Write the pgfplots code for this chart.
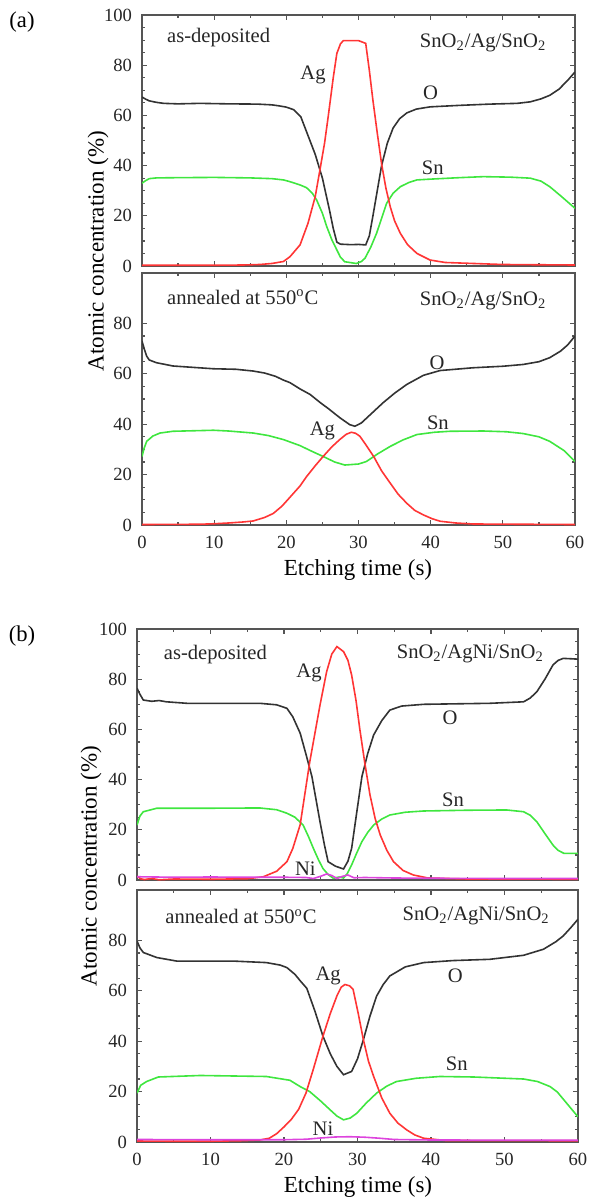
\documentclass[border=0pt]{standalone}
\usepackage{fontspec}
\setmainfont{Liberation Serif}
\usepackage{pgfplots}
\pgfplotsset{compat=1.18}

\definecolor{cO}{HTML}{333333}
\definecolor{cSn}{HTML}{3FE63F}
\definecolor{cAg}{HTML}{FF3535}
\definecolor{cNi}{HTML}{DD44DD}
\definecolor{frame}{HTML}{555555}

\newcommand{\annotfont}{\fontsize{10.3}{12}\selectfont}
\newcommand{\labfont}{\fontsize{11.5}{13}\selectfont}
\tikzset{annot/.style={font=\annotfont, text=black!85}}

\pgfplotsset{
  aes/.style={
    scale only axis,
    xmin=0, xmax=60, ymin=0, ymax=100,
    xtick={0,10,...,60}, minor x tick num=1,
    minor y tick num=3,
    xtick pos=both, ytick pos=both,
    tick align=inside,
    major tick length=2.6pt, minor tick length=1.6pt,
    axis line style={frame, line width=0.7pt},
    every tick/.style={frame, line width=0.6pt},
    tick label style={font=\fontsize{9.3}{11}\selectfont, text=black!85},
    xticklabel style={yshift=-2pt},
    yticklabel style={xshift=-1.5pt},
    /pgf/number format/assume math mode=true,
    every axis plot/.append style={line width=0.8pt, mark=none},
  },
  pO/.style={cO},
  pSn/.style={cSn},
  pAg/.style={cAg},
  pNi/.style={cNi},
}

\begin{document}
\begin{tikzpicture}[x=0.5pt, y=-0.5pt]
\path[use as bounding box] (0,0) rectangle (593,1200);
\coordinate (A1) at (142,15);
\coordinate (A2) at (142,273);
\coordinate (B1) at (137,629);
\coordinate (B2) at (137,890);

\node[font=\fontsize{11.3}{13}\selectfont] at (22,22) {(a)};
\node[font=\fontsize{11.3}{13}\selectfont] at (22,636) {(b)};
\node[font=\labfont, rotate=90] at (98,251) {Atomic concentration (\%)};
\node[font=\labfont, rotate=90] at (91,866) {Atomic concentration (\%)};
\node[font=\labfont] at (358,570) {Etching time (s)};
\node[font=\labfont] at (358,1187) {Etching time (s)};

% ---------- (a) as-deposited ----------
\begin{axis}[aes, at={(A1)}, anchor=north west, width=216.5pt, height=125.5pt,
  ytick={0,20,...,100}, xticklabels={}]
\addplot[pO] coordinates {
 (0,67.3) (0.5,66.5) (1,65.8) (2,65.2) (3,64.8) (5,64.6) (8,64.8) (12,64.6)
 (16,64.5) (18,64.2) (19,63.8) (20,63.3) (21,62.3) (22,59.5) (23,52)
 (24,44.5) (25,35) (26,22) (26.5,15) (27,9.5) (27.5,8.7) (29,8.5) (30,8.6)
 (31,8.4) (31.5,12) (32,20) (32.6,30) (33.2,40) (34,49) (34.8,55) (35.7,58.7)
 (36.7,61) (38,62.5) (39.9,63.4) (44,64) (48.2,64.5) (52,64.8) (53.8,65.4)
 (55.3,66.6) (56.5,68) (57.8,70.5) (59,74) (60,77.3)};
\addplot[pSn] coordinates {
 (0,33) (0.5,34) (1,34.8) (2,35.1) (5,35.2) (10,35.3) (15,35.1) (18,34.8)
 (19.6,34.3) (20.5,33.6) (21.9,32.3) (22.8,31.2) (23.6,29) (24.2,26.3)
 (25,21) (25.6,15.7) (26.3,10.5) (27,6.4) (27.5,3.5) (28.1,1.7) (29.7,1.0)
 (30.4,1.8) (30.9,3.1) (31.7,7.5) (32.5,13) (33.2,19) (33.9,25) (34.8,29)
 (35.8,31.6) (37,33.3) (38.1,34.3) (39.9,34.6) (44,35.2) (47.3,35.6)
 (51,35.4) (53.8,35) (55.3,33.8) (56.5,31.6) (58,28) (59,25.5) (60,23)};
\addplot[pAg] coordinates {
 (0,0.3) (10,0.3) (14,0.4) (16.3,0.6) (18,1.0) (19.6,1.8) (20.5,3.7)
 (21.9,8.4) (23,17) (24,27.6) (24.7,39) (25.3,49) (25.8,59.5) (26.5,75)
 (27,84.7) (27.5,88.5) (27.9,89.8) (30,89.8) (31,88.7) (31.5,78) (32,66)
 (32.6,53) (33.2,40.7) (33.8,31) (34.4,23.6) (35,18) (35.8,13) (36.8,8.5)
 (38.1,5) (39.9,2.4) (42,1.4) (46,1.0) (50,0.6) (60,0.4)};
\node[annot, anchor=west] at (axis cs:2.5,91) {as-deposited};
\node[annot, anchor=east] at (axis cs:57,89) {SnO\textsubscript{2}/Ag/SnO\textsubscript{2}};
\node[annot] at (axis cs:23.7,76) {Ag};
\node[annot] at (axis cs:40,69) {O};
\node[annot] at (axis cs:40.3,39) {Sn};
\end{axis}

% ---------- (a) annealed ----------
\begin{axis}[aes, at={(A2)}, anchor=north west, width=216.5pt, height=126pt,
  ytick={0,20,...,80}, extra y ticks={100}, extra y tick labels={}]
\addplot[pO] coordinates {
 (0,73) (0.3,70) (0.65,67) (1,65.5) (2,64.4) (4.3,63.1) (9.9,62) (13,61.8)
 (15.4,61.1) (17,60.3) (18.5,59) (19.6,57.5) (20.5,56.5) (21.9,54)
 (23.3,51.8) (24.6,48.8) (26,45.8) (27.4,42.6) (28.8,39.8) (29.5,39.2)
 (30.4,40.5) (31.9,44.5) (33.4,48.5) (35,52.3) (36.7,55.8) (39,59.4)
 (41.3,61.3) (45.9,62.4) (50,63) (52.8,63.7) (55,64.8) (56.5,66.4) (58,69)
 (59,71.5) (60,75)};
\addplot[pSn] coordinates {
 (0,27.2) (0.3,30.5) (0.65,33.2) (1.5,35.3) (2.5,36.5) (4.3,37.2) (9.9,37.6)
 (12,37.3) (15.4,36.5) (17.5,35.5) (19.6,33.9) (21.9,31.5) (23.5,29.3)
 (25.1,27.2) (26.7,25) (28.1,23.8) (30,24.2) (31.1,25.2) (32.7,28.3)
 (34.4,31.2) (36.2,33.8) (38.1,35.9) (40.5,36.8) (42.7,37.2) (47.3,37.3)
 (50.5,37) (52.8,36.3) (55,35) (56.5,33.2) (58.5,29.5) (60,25.2)};
\addplot[pAg] coordinates {
 (0,0.2) (8,0.3) (10,0.5) (12,0.8) (14,1.2) (15.4,1.6) (17,3) (18.2,4.6)
 (19.4,7.5) (20.5,11) (21.9,15.5) (22.8,19.2) (24,23.5) (25.1,27.2)
 (26.3,31) (27.4,33.9) (28.3,36) (29,36.8) (29.6,36.4) (30.2,35.2)
 (31.1,31.5) (32.1,27.2) (33.2,21.5) (34.4,16.6) (35.5,12.2) (36.7,8.6)
 (37.8,5.8) (39,4) (40.2,2.5) (41.3,1.5) (43.5,0.8) (45.9,0.4) (60,0.2)};
\node[annot, anchor=west] at (axis cs:2.5,90.4) {annealed at 550\textsuperscript{o}C};
\node[annot, anchor=east] at (axis cs:57,89) {SnO\textsubscript{2}/Ag/SnO\textsubscript{2}};
\node[annot] at (axis cs:25,37.5) {Ag};
\node[annot] at (axis cs:40.9,64.5) {O};
\node[annot] at (axis cs:41,40.5) {Sn};
\end{axis}

% ---------- (b) as-deposited ----------
\begin{axis}[aes, at={(B1)}, anchor=north west, width=220.5pt, height=125.5pt,
  ytick={0,20,...,100}, xticklabels={}]
\addplot[pO] coordinates {
 (0,76.4) (0.4,74) (0.86,71.7) (2,71.2) (3,71.5) (4,71) (6.8,70.4) (12,70.4)
 (16.7,70.4) (19,69.8) (20.4,68.4) (21.2,65) (22.2,58.5) (23,50) (23.8,41.2)
 (24.9,23.2) (25.5,14) (26,7.3) (27,5.5) (28.1,4.4) (28.7,7.5) (29.2,12.6)
 (29.9,27) (30.6,41.2) (31.4,50.5) (32.2,57.8) (33.3,63.5) (34.4,67.7)
 (36,69.3) (39,70) (48,70.4) (52.6,71) (53.5,72.5) (54.4,75) (55.5,80)
 (56.6,85.7) (57.3,87.5) (58,88.3) (60,88)};
\addplot[pSn] coordinates {
 (0,21.9) (0.4,25.5) (0.86,27.2) (2.7,28.6) (10,28.6) (16.7,28.7) (19,28)
 (20.4,26.6) (21.5,25) (22.6,21.9) (23.3,17.5) (24,12.6) (24.7,8) (25.3,4.6)
 (26,2.2) (26.7,0.7) (27.5,1.2) (28.1,0.8) (28.6,2.5) (29.2,6) (29.9,10.8)
 (30.6,15.3) (31.4,19) (32.2,21.9) (33.3,24.3) (34.4,25.9) (36.5,27)
 (39,27.5) (45,27.8) (50.3,27.9) (52.6,27.2) (53.5,25.8) (54.4,23.2)
 (55.5,18.5) (56.6,13.9) (57.3,11.8) (58.1,10.6) (60,10.6)};
\addplot[pAg] coordinates {
 (0,1.5) (0.5,0.5) (1,0.2) (2,0.6) (3,0.1) (5,0.4) (10,0.3) (15,0.5)
 (17.2,1.3) (19,3.5) (20.4,7.3) (21.2,12.6) (22.2,22) (23.5,47) (24.9,69.7)
 (25.8,83) (26.5,90) (27.2,93) (28.1,91) (28.7,87.5) (29.2,81.7) (29.8,71.5)
 (30.3,60.4) (31,46.5) (31.7,33.9) (32.4,24.5) (33.1,17.9) (34,11.8)
 (34.9,7.3) (36.2,3.8) (37.6,2) (39.6,0.8) (45,0.4) (60,0.3)};
\addplot[pNi] coordinates {
 (0,1.3) (5,1.1) (10,1.2) (15,1.1) (20,1.1) (23,1.0) (24,0.6) (25,1.5)
 (25.8,2.4) (26.5,1.8) (27.2,0.6) (28,1.5) (28.7,2.0) (29.5,0.9) (31,1.0)
 (35,0.8) (40,0.7) (50,0.6) (60,0.6)};
\node[annot, anchor=west] at (axis cs:2.7,90) {as-deposited};
\node[annot, anchor=east] at (axis cs:56.3,90) {SnO\textsubscript{2}/AgNi/SnO\textsubscript{2}};
\node[annot] at (axis cs:23.4,82.5) {Ag};
\node[annot] at (axis cs:42.6,64.5) {O};
\node[annot] at (axis cs:43,32) {Sn};
\node[annot] at (axis cs:22.9,4.5) {Ni};
\end{axis}

% ---------- (b) annealed ----------
\begin{axis}[aes, at={(B2)}, anchor=north west, width=220.5pt, height=126pt,
  ytick={0,20,...,80}, extra y ticks={100}, extra y tick labels={}]
\addplot[pO] coordinates {
 (0,79.8) (0.4,77) (0.86,75.2) (2.7,73.2) (5.4,71.8) (13.1,71.8) (17.6,71.2)
 (19.5,70.2) (20.4,69.2) (21.5,66.5) (22.2,64) (23.1,61) (24.2,52) (25.3,42)
 (26.3,35) (27.2,30) (28.1,26.7) (29.2,28) (30,33) (30.8,40.6) (31.7,50)
 (32.6,57.9) (33.5,62.5) (34.4,65.9) (36.5,69.5) (39,71.2) (43,72)
 (48,72.5) (52.6,74.1) (55.3,76.5) (57,79.5) (58,81.8) (59,85) (60,88.4)};
\addplot[pSn] coordinates {
 (0,19.4) (0.5,22.5) (1.3,24) (2.9,25.8) (8.6,26.4) (17.6,26) (20.8,24.5)
 (22.2,22) (23.5,20) (24.9,16.5) (26.3,12.7) (27.2,10.3) (28.1,8.8)
 (29,9.5) (29.9,11.4) (31.2,15.5) (32.6,19.4) (34,22.2) (35.3,24) (38,25.3)
 (41.2,26) (45.8,25.8) (52.6,25) (54.5,24) (56.2,22) (57.2,19.8) (58,17)
 (59,13.5) (60,10)};
\addplot[pAg] coordinates {
 (0,0.4) (5,0.3) (10,0.3) (14,0.5) (16.7,0.8) (18,1.5) (19,3.3) (20,6)
 (21,9) (22,13) (23,19.5) (24,29) (25.3,42) (26.3,51) (27.2,58) (27.8,61.5)
 (28.3,62.5) (28.9,62) (29.4,60.6) (30.1,51) (30.8,40.6) (31.5,32) (32.2,26)
 (33.3,17.5) (34.4,11.4) (35.5,7.5) (36.7,4.8) (37.8,2.8) (39,1.5) (42,0.6)
 (60,0.5)};
\addplot[pNi] coordinates {
 (0,1.0) (10,0.9) (20,0.9) (23,1.1) (25,1.6) (27,2.0) (29,2.1) (31,1.9)
 (33,1.5) (35,1.0) (40,0.8) (60,0.7)};
\node[annot, anchor=west] at (axis cs:2.9,89.6) {annealed at 550\textsuperscript{o}C};
\node[annot, anchor=east] at (axis cs:57.1,89.6) {SnO\textsubscript{2}/AgNi/SnO\textsubscript{2}};
\node[annot] at (axis cs:26,66) {Ag};
\node[annot] at (axis cs:43.3,66) {O};
\node[annot] at (axis cs:43.5,31) {Sn};
\node[annot] at (axis cs:25.3,5.2) {Ni};
\end{axis}
\end{tikzpicture}
\end{document}
